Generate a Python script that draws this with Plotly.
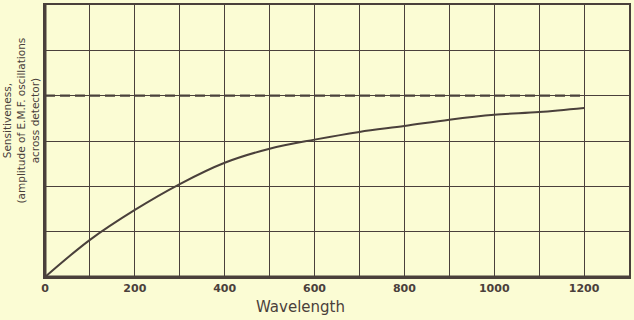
import plotly.graph_objects as go

# wavelength vs sensitiveness
wavelength = [0, 100, 200, 300, 400, 500, 600, 700, 800, 900, 1000, 1100, 1200]
sensitiveness = [0, 0.82, 1.48, 2.05, 2.52, 2.83, 3.03, 3.2, 3.33, 3.47, 3.58, 3.64, 3.73]

limit_x = [0, 1200]
limit_y = [4.0, 4.0]

tick_vals = [0, 100, 200, 300, 400, 500, 600, 700, 800, 900, 1000, 1100, 1200, 1300]
tick_text = ["0", "", "200", "", "400", "", "600", "", "800", "", "1000", "", "1200", ""]

INK = "#4a403b"
PAPER = "#fbfcd4"

fig = go.Figure()

fig.add_trace(go.Scatter(
    x=limit_x, y=limit_y, mode="lines",
    line=dict(color=INK, width=2.2, dash="10px,5px"),
    hoverinfo="skip",
))

fig.add_trace(go.Scatter(
    x=wavelength, y=sensitiveness, mode="lines",
    line=dict(color=INK, width=2, shape="spline"),
))

fig.update_layout(
    width=634, height=320,
    margin=dict(l=45, r=3, t=5, b=43),
    paper_bgcolor=PAPER,
    plot_bgcolor=PAPER,
    showlegend=False,
    xaxis=dict(
        range=[0, 1300],
        tickvals=tick_vals, ticktext=tick_text,
        showgrid=True, gridcolor=INK, gridwidth=1.3,
        zeroline=False, showline=True, mirror=True,
        linecolor=INK, linewidth=1.5,
        ticks="",
        tickfont=dict(family="DejaVu Sans", size=11, color=INK, weight="bold"),
    ),
    yaxis=dict(
        range=[0, 6], dtick=1,
        showgrid=True, gridcolor=INK, gridwidth=1.3,
        zeroline=False, showline=True, mirror=True,
        linecolor=INK, linewidth=1.5,
        showticklabels=False, ticks="",
    ),
)

# thicker left and bottom frame
fig.add_shape(type="line", xref="paper", yref="paper", x0=0, x1=0, y0=0, y1=1,
              line=dict(color=INK, width=3))
fig.add_shape(type="line", xref="paper", yref="paper", x0=0, x1=1, y0=0, y1=0,
              line=dict(color=INK, width=3))

fig.add_annotation(
    text="Wavelength", xref="paper", yref="paper",
    x=0.437, y=-0.112, xanchor="center", yanchor="middle",
    showarrow=False, font=dict(family="DejaVu Sans", size=15, color=INK),
)

fig.add_annotation(
    text="Sensitiveness,<br>(amplitude of E.M.F. oscillations<br>across detector)",
    xref="paper", yref="paper",
    x=-0.042, y=0.577, xanchor="center", yanchor="middle",
    textangle=-90, showarrow=False,
    font=dict(family="DejaVu Sans", size=10.5, color=INK),
)

fig.write_html(
    "out.html",
    config={"displayModeBar": False},
    post_script="document.body.style.margin='0';document.body.style.background='%s';" % PAPER,
)
